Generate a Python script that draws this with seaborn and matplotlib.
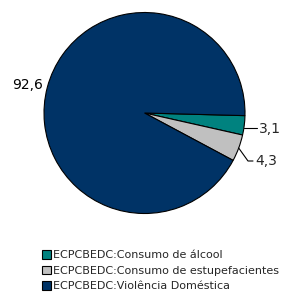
import matplotlib
matplotlib.use("Agg")
import matplotlib.pyplot as plt
import seaborn as sns
import numpy as np

categories = ["ECPCBEDC:Consumo de álcool",
              "ECPCBEDC:Consumo de estupefacientes",
              "ECPCBEDC:Violência Doméstica"]
values = [3.1, 4.3, 92.6]
value_labels = ["3,1", "4,3", "92,6"]
colors = ["#00827F", "#C0C0C0", "#003366"]

sns.set_theme(style="white")
plt.rcParams['font.family'] = ['DejaVu Sans']

W, H = 282, 295
fig = plt.figure(figsize=(W / 100, H / 100), dpi=100)
cx, cy, r = 144.5, 113.0, 100.5
ax = fig.add_axes([(cx - r) / W, (H - cy - r) / H, 2 * r / W, 2 * r / H])
wedges, _ = ax.pie(values, colors=colors, startangle=-1.5, counterclock=False,
                   wedgeprops=dict(edgecolor="black", linewidth=0.8))
ax.set_xlim(-1, 1)
ax.set_ylim(-1, 1)
ax.set_aspect("equal")
ax.axis("off")

def px(x, y):
    return ((x - cx) / r, (cy - y) / r)

text_pos = [(270, 129), (265, 161), (28, 85)]
for w, lab, tp in zip(wedges, value_labels, text_pos):
    ang = np.deg2rad((w.theta1 + w.theta2) / 2)
    ex, ey = np.cos(ang), np.sin(ang)
    tx, ty = px(*tp)
    if lab == "92,6":
        ax.text(tx, ty, lab, ha="center", va="center", fontsize=10, color="black")
    elif lab == "3,1":
        ly = px(0, 127.5)[1]
        ax.plot([ex, px(257, 0)[0]], [ly, ly], color="black", lw=0.8, clip_on=False)
        ax.text(px(259, 0)[0], ty, lab, ha="left", va="center", fontsize=10)
    else:
        bx, by = px(248, 160)
        ax.plot([ex, bx, px(253, 0)[0]], [ey, ty, ty], color="black", lw=0.8, clip_on=False)
        ax.text(px(255, 0)[0], ty, lab, ha="left", va="center", fontsize=10)

fig.legend(wedges, categories, loc="upper left",
           bbox_to_anchor=(42 / W, 1 - 250 / H), frameon=False,
           fontsize=8, handlelength=0.8, handleheight=0.8,
           handletextpad=0.15, labelspacing=0.5, borderaxespad=0,
           borderpad=0)

fig.savefig("out.png", dpi=100)
